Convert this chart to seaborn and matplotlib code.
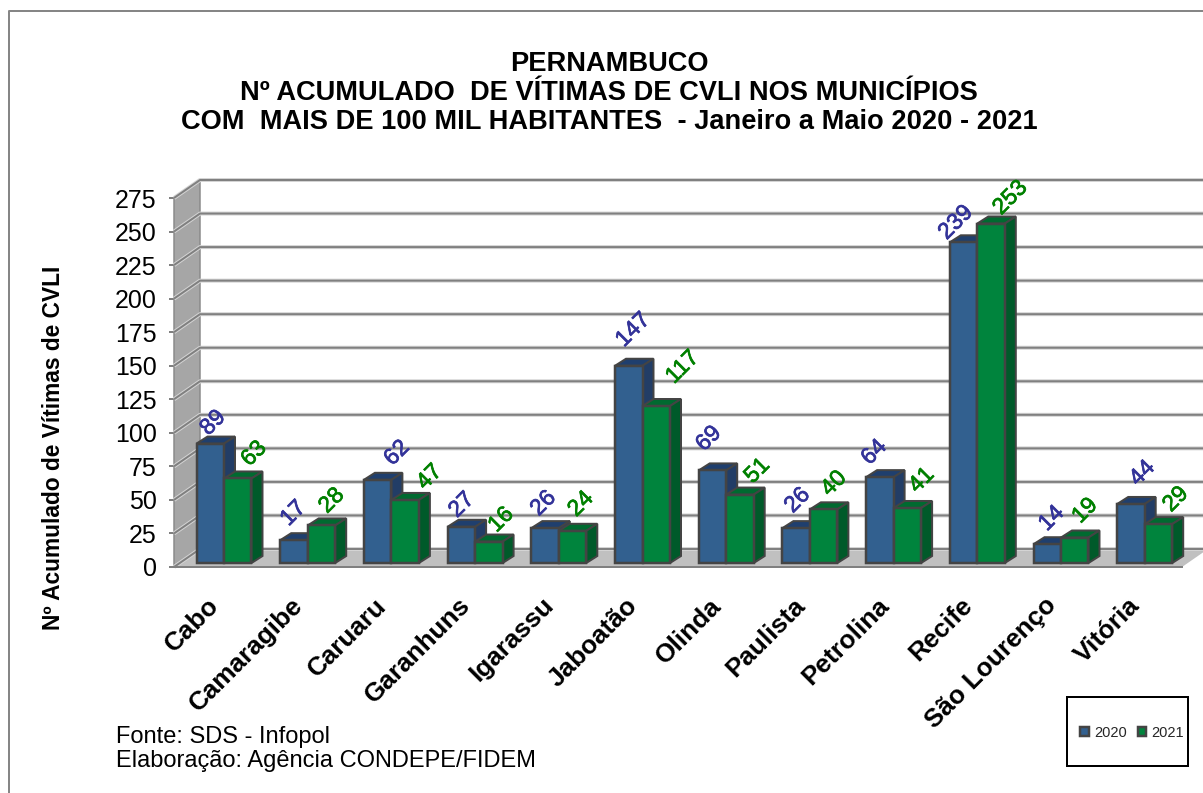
import matplotlib
matplotlib.use("Agg")
import matplotlib.pyplot as plt
import matplotlib.patheffects as pe
from matplotlib.lines import Line2D
from matplotlib.patches import Polygon, Rectangle
from matplotlib.transforms import ScaledTranslation
import pandas as pd
import seaborn as sns

municipios = ["Cabo", "Camaragibe", "Caruaru", "Garanhuns", "Igarassu", "Jaboatão",
              "Olinda", "Paulista", "Petrolina", "Recife", "São Lourenço", "Vitória"]
valores_2020 = [89, 17, 62, 27, 26, 147, 69, 26, 64, 239, 14, 44]
valores_2021 = [63, 28, 47, 16, 24, 117, 51, 40, 41, 253, 19, 29]
anos = ["2020", "2021"]
y_ticks = list(range(0, 276, 25))
titulo = ("PERNAMBUCO\nNº ACUMULADO  DE VÍTIMAS DE CVLI NOS MUNICÍPIOS\n"
          "COM  MAIS DE 100 MIL HABITANTES  - Janeiro a Maio 2020 - 2021")
eixo_y = "Nº Acumulado de Vítimas de CVLI"
fonte = "Fonte: SDS - Infopol\nElaboração: Agência CONDEPE/FIDEM"

W, H = 1203, 793
sns.set_theme(style="white")
plt.rcParams["font.family"] = ["Liberation Sans", "DejaVu Sans"]

front = {"2020": "#32608F", "2021": "#00843D"}
top_c = {"2020": "#1F3F6E", "2021": "#006A30"}
side_c = {"2020": "#223D66", "2021": "#005A2A"}
label_c = {"2020": "#333399", "2021": "#008000"}
EDGE = "#444444"
px = 0.72  # points per pixel at dpi 100

# hand-placed label nudges of the original chart (pixels: right, up from the bar's top centre)
nudges = {
    "2020": [(2.5, 21), (-1, 27), (19, 27), (0, 22), (-2, 25), (4, 36),
             (-4, 32), (1, 28), (-6, 25), (-8, 20), (4, 26), (11, 31)],
    "2021": [(16, 25), (10, 25), (24, 23), (12, 22), (8, 27), (26, 39),
             (17, 24), (10, 26), (14, 28), (19, 26), (10, 27), (17, 25)],
}

df = pd.DataFrame({
    "municipio": municipios * 2,
    "ano": [anos[0]] * len(municipios) + [anos[1]] * len(municipios),
    "valor": valores_2020 + valores_2021,
})

fig = plt.figure(figsize=(W / 100, H / 100), dpi=100, facecolor="white")
ax = fig.add_axes([174 / W, 1 - 567 / H, (1182 - 174) / W, (567 - 198) / H])
ax.patch.set_visible(False)

sns.barplot(data=df, x="municipio", y="valor", hue="ano", hue_order=anos, palette=front,
            width=0.657, gap=0, saturation=1, linewidth=2.5 * px, edgecolor=EDGE, ax=ax,
            errorbar=None, zorder=3)

x_per_px = 1 / 83.7
y_per_px = 275 / 369
ax.set_xlim(-50 * x_per_px, 958 * x_per_px)
ax.set_ylim(0, 275)
x0, x1 = ax.get_xlim()
wall_dx, wall_dy = 26 * x_per_px, 18 * y_per_px
bar_dx, bar_dy = 11 * x_per_px, 7 * y_per_px
lift = 4 * y_per_px

# walls, floor and gridlines of the 3D box
ax.add_patch(Polygon([(x0, 0), (x0 + wall_dx, wall_dy), (x0 + wall_dx, 275 + wall_dy), (x0, 275)],
                     closed=True, fc="#A6A6A6", ec="#8A8A8A", lw=1.5 * px, clip_on=False, zorder=1))
ax.add_patch(Polygon([(x0, 0), (x1, 0), (x1 + wall_dx, wall_dy), (x0 + wall_dx, wall_dy)],
                     closed=True, fc="#C0C0C0", ec="none", clip_on=False, zorder=1))
for v in y_ticks:
    xs = [x0, x0 + wall_dx, x1 + wall_dx]
    ys = [v, v + wall_dy, v + wall_dy]
    ax.plot(xs, ys, color="#D4D4D4", lw=4 * px, clip_on=False, zorder=1.2, solid_capstyle="butt")
    ax.plot(xs, ys, color="#808080", lw=2 * px, clip_on=False, zorder=1.3, solid_capstyle="butt")

# extrude every bar that seaborn drew and label it
for k, (ano, cont) in enumerate(zip(anos, ax.containers)):
    for bar, off in zip(cont, nudges[ano]):
        bar.set_y(lift)
        bar.set_zorder(3.1 + 2 * k)
        xa, w, h = bar.get_x(), bar.get_width(), bar.get_height()
        xb, yb, yt = xa + w, lift, lift + h
        ax.add_patch(Polygon([(xa, yt), (xa + bar_dx, yt + bar_dy), (xb + bar_dx, yt + bar_dy), (xb, yt)],
                             closed=True, fc=top_c[ano], ec=EDGE, lw=2 * px, clip_on=False, zorder=3 + 2 * k))
        ax.add_patch(Polygon([(xb, yb), (xb + bar_dx, yb + bar_dy), (xb + bar_dx, yt + bar_dy), (xb, yt)],
                             closed=True, fc=side_c[ano], ec=EDGE, lw=2 * px, clip_on=False, zorder=3 + 2 * k))
        ax.annotate(f"{h:.0f}", (xa + w / 2, yt), xytext=(off[0] * px, off[1] * px),
                    textcoords="offset points", rotation=45, ha="center", va="center", fontsize=16.5,
                    color=label_c[ano], annotation_clip=False, zorder=8,
                    path_effects=[pe.withStroke(linewidth=0.5, foreground=label_c[ano])])

ax.set_xlabel("")
ax.set_ylabel("")
ax.set_yticks(y_ticks)
ax.tick_params(axis="y", left=True, length=5 * px, width=2 * px, color="#808080", labelsize=18,
               labelcolor="black", pad=9)
ax.tick_params(axis="x", bottom=False, length=0, labelsize=18.8, labelcolor="black", pad=19)
shift = ScaledTranslation(-17 / 100, 0, fig.dpi_scale_trans)
for lab in ax.get_xticklabels():
    lab.set(rotation=45, ha="right", rotation_mode="anchor", fontweight="bold")
    lab.set_transform(lab.get_transform() + shift)
sns.despine(ax=ax, left=True, bottom=False)
ax.spines["bottom"].set_color("#808080")
ax.spines["bottom"].set_linewidth(2 * px)
ax.spines["bottom"].set_zorder(2)

fig.text(609 / W, 1 - 93 / H, titulo, ha="center", va="center", fontsize=19.6, fontweight="bold",
         linespacing=1.16, color="black")
fig.text(53.5 / W, 1 - 448 / H, eixo_y, rotation=90, ha="center", va="center", fontsize=16.4,
         fontweight="bold", color="black")
fig.text(116 / W, 1 - 749 / H, fonte, ha="left", va="center", fontsize=17, linespacing=1.14, color="black")

# legend box and outer frame
fig.add_artist(Rectangle((1067 / W, 1 - 766 / H), 121 / W, 69 / H, transform=fig.transFigure,
                         fc="white", ec="black", lw=2 * px, zorder=5))
handles, labels = ax.get_legend_handles_labels()
ax.get_legend().remove()
leg = fig.legend(handles, labels, loc="center", bbox_to_anchor=(1132 / W, 1 - 733 / H), ncol=2,
                 frameon=False, fontsize=10.5, handlelength=0.6, handleheight=0.6,
                 handletextpad=0.35, columnspacing=0.75, borderaxespad=0, borderpad=0)
leg.set_zorder(6)
fig.add_artist(Line2D([8.5 / W, 8.5 / W, 1], [0, 1 - 10.5 / H, 1 - 10.5 / H], transform=fig.transFigure,
                      color="#868686", lw=2 * px))

fig.savefig("out.png", dpi=100)
